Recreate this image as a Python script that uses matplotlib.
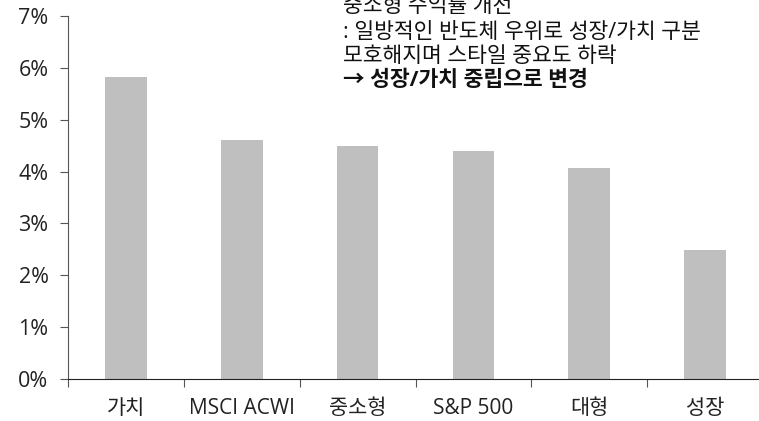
import matplotlib
matplotlib.use("Agg")
import matplotlib.pyplot as plt
import numpy as np

plt.rcParams['font.family'] = ['Open Sans', 'Noto Sans CJK KR', 'DejaVu Sans']

categories = ["가치", "MSCI ACWI", "중소형", "S&P 500", "대형", "성장"]
values = [5.82, 4.60, 4.49, 4.39, 4.07, 2.49]
yticks = [0, 1, 2, 3, 4, 5, 6, 7]
note_lines = ["중소형 수익률 개선", ": 일방적인 반도체 우위로 성장/가치 구분", "모호해지며 스타일 중요도 하락"]
note_bold = "→ 성장/가치 중립으로 변경"

fig = plt.figure(figsize=(7.59, 4.21), dpi=100)
ax = fig.add_axes([68/759, 1-379/421, (763-68)/759, (379-16)/421])

x = np.arange(len(categories))
ax.bar(x, values, width=0.36, color="#BFBFBF", zorder=2)

ax.set_xlim(-0.5, len(categories) - 0.5)
ax.set_ylim(0, 7)
ax.set_yticks(yticks)
ax.set_yticklabels([f"{v}%" for v in yticks], fontsize=15.5, color="#222222")

# 카테고리 경계에 눈금, 라벨은 가운데
ax.set_xticks(np.arange(len(categories)) - 0.5)
ax.set_xticklabels([])
ax.set_xticks(x, minor=True)
ax.set_xticklabels(categories, minor=True, fontsize=15, color="#222222")
ax.tick_params(axis="x", which="minor", length=0, pad=14)
ax.tick_params(axis="x", which="major", length=6, color="#555555", direction="out")
ax.tick_params(axis="y", length=6, color="#555555", direction="out", pad=8)

for s in ["top", "right"]:
    ax.spines[s].set_visible(False)
ax.spines["left"].set_color("#555555")
ax.spines["bottom"].set_color("#222222")

tx = 343/759
ys = [7, 32, 56]
for t, yy in zip(note_lines, ys):
    fig.text(tx, 1-yy/421, t, fontsize=15.5, va="center", ha="left", color="#111111")
fig.text(tx, 1-80/421, note_bold, fontsize=15.5, fontweight="bold", va="center", ha="left", color="#111111")

fig.savefig("out.png", dpi=100)
